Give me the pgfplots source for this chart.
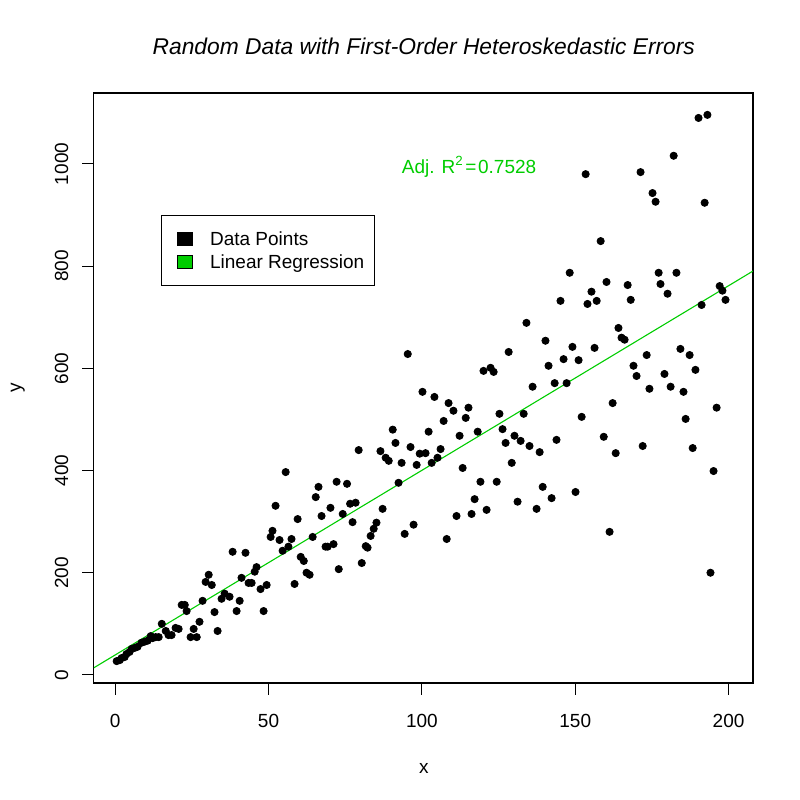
\documentclass[border=0pt]{standalone}
\usepackage{fontspec}
\setmainfont{Liberation Sans}
\usepackage{pgfplots}
\usepackage{pgfplotstable}
\pgfplotsset{compat=1.18}
\definecolor{rgreen}{RGB}{0,205,0}

\pgfplotstableread{
x y
0.5 27
1.5 29
2.1 33
3.1 35
3.7 41
4.7 45
5.4 51
6.4 53
7.3 55
8.6 63
9.6 65
10.6 67
11.6 76
12.2 72
13.2 74
14.2 74
15.2 100
16.5 86
17.4 78
18.4 78
19.7 92
20.7 90
21.7 137
22.7 137
23.3 125
24.6 74
25.6 90
26.6 74
27.5 104
28.5 145
29.5 182
30.5 196
31.5 176
32.4 123
33.4 86
34.7 149
35.7 159
37.3 153
38.3 241
39.6 125
40.6 145
41.2 190
42.5 239
43.5 180
44.5 180
45.5 202
46.1 211
47.4 168
48.4 125
49.4 176
50.7 270
51.3 282
52.3 331
53.6 264
54.6 243
55.6 397
56.5 251
57.5 266
58.5 178
59.5 305
60.5 231
61.5 223
62.4 200
63.4 196
64.4 270
65.4 348
66.3 368
67.3 311
68.6 251
69.3 251
70.2 327
71.2 256
72.2 378
72.9 207
74.2 315
75.6 374
76.6 335
77.4 299
78.4 337
79.4 440
80.4 219
81.7 252
82.3 249
83.3 272
84.3 286
85.2 298
86.5 438
87.2 325
88.2 425
89.2 419
90.5 480
91.4 454
92.4 376
93.4 415
94.4 276
95.4 628
96.3 446
97.3 294
98.3 411
99.3 433
100.2 554
101.2 434
102.2 476
103.2 415
104.1 544
105.1 425
106.1 442
107.1 497
108.1 266
108.7 532
110.3 517
111.3 311
112.3 468
113.3 405
114.3 503
115.2 523
116.2 315
117.2 344
118.2 476
119.1 378
120.1 595
121.1 323
122.4 601
123.4 593
124.4 378
125.3 511
126.3 481
127.3 454
128.3 632
129.3 415
130.2 468
131.2 339
132.2 458
133.2 511
134.1 689
135.1 448
136.1 564
137.4 325
138.4 436
139.4 368
140.3 654
141.3 605
142.3 346
143.3 571
143.9 460
145.2 732
146.2 618
147.2 571
148.2 787
149.1 642
150.1 358
151.1 616
152.1 505
153.4 980
154.0 726
155.3 750
156.3 640
157.0 732
158.3 849
159.3 466
160.2 769
161.2 280
162.2 532
163.2 434
164.1 679
165.1 660
166.1 656
167.1 763
168.1 734
169.0 605
170.0 585
171.3 984
172.0 448
173.3 626
174.2 560
175.2 943
176.2 926
177.2 787
177.8 765
179.1 589
180.1 746
181.1 564
182.1 1016
183.0 787
184.3 638
185.3 554
186.0 501
187.3 626
188.3 444
189.2 597
190.2 1090
191.2 724
192.2 924
193.1 1096
194.1 200
195.1 399
196.1 523
197.1 761
198.0 752
199.0 734
}\datatable

\pgfplotstableread{
x y
-6.96 13.9
207.96 790.4
}\regtable

\begin{document}
\begin{tikzpicture}
\useasboundingbox (-46.9pt,-58.5pt) rectangle (353.1pt,341.5pt);
\begin{axis}[
  at={(0,0)}, anchor=south west,
  scale only axis, width=329.6pt, height=295pt,
  xmin=-6.96, xmax=207.96, ymin=-15.8, ymax=1138.8,
  axis line style={line width=0.55pt},
  xtick={0,50,100,150,200}, ytick={0,200,400,600,800,1000},
  tick align=outside, major tick length=5.85pt,
  every tick/.style={black, line width=0.55pt},
  xtick pos=bottom, ytick pos=left,
  tick label style={font=\fontsize{9.5}{11}\selectfont, /pgf/number format/assume math mode=true, /pgf/number format/set thousands separator={}},
  xticklabel style={anchor=center, yshift=-13.3pt, inner sep=0pt},
  yticklabel style={inner sep=0pt, anchor=center, xshift=-10.2pt, rotate=90},
  legend style={at={(0.1012,0.7932)}, anchor=north west, draw=black, line width=0.55pt,
    inner xsep=5pt, inner ysep=8.1pt, font=\fontsize{9.5}{11}\selectfont,
    row sep=4.7pt, column sep=8.5pt,
    nodes={inner sep=0pt, text height=6.8pt, text depth=0pt}},
  legend cell align=left,
]
\addplot[only marks, mark=*, mark size=1.8pt, draw=black, fill=black,
  legend image code/.code={\path (0pt,0pt); \draw[black, fill=black, line width=0.5pt] (3pt,-3.25pt) rectangle (10.5pt,3.25pt);}]
  table[x=x, y=y] {\datatable};
\addlegendentry{Data Points}
\addplot[rgreen, line width=0.55pt, no marks,
  legend image code/.code={\path (0pt,0pt); \draw[black, fill=rgreen, line width=0.5pt] (3pt,-3.25pt) rectangle (10.5pt,3.25pt);}]
  table[x=x, y=y] {\regtable};
\addlegendentry{Linear Regression}
\node[anchor=base, text=rgreen, font=\fontsize{9.5}{11}\selectfont] at (axis cs:115.4,982) {Adj. R\textsuperscript{2}\kern0.8pt=\kern0.8pt0.7528};
\end{axis}
\node[anchor=base, font=\fontsize{11.4}{13}\selectfont\itshape] at (165pt,314pt) {Random Data with First-Order Heteroskedastic Errors};
\node[anchor=center, font=\fontsize{9.5}{11}\selectfont] at (165pt,-42.5pt) {x};
\node[anchor=center, rotate=90, font=\fontsize{9.5}{11}\selectfont] at (-38pt,147.5pt) {y};
\end{tikzpicture}
\end{document}
